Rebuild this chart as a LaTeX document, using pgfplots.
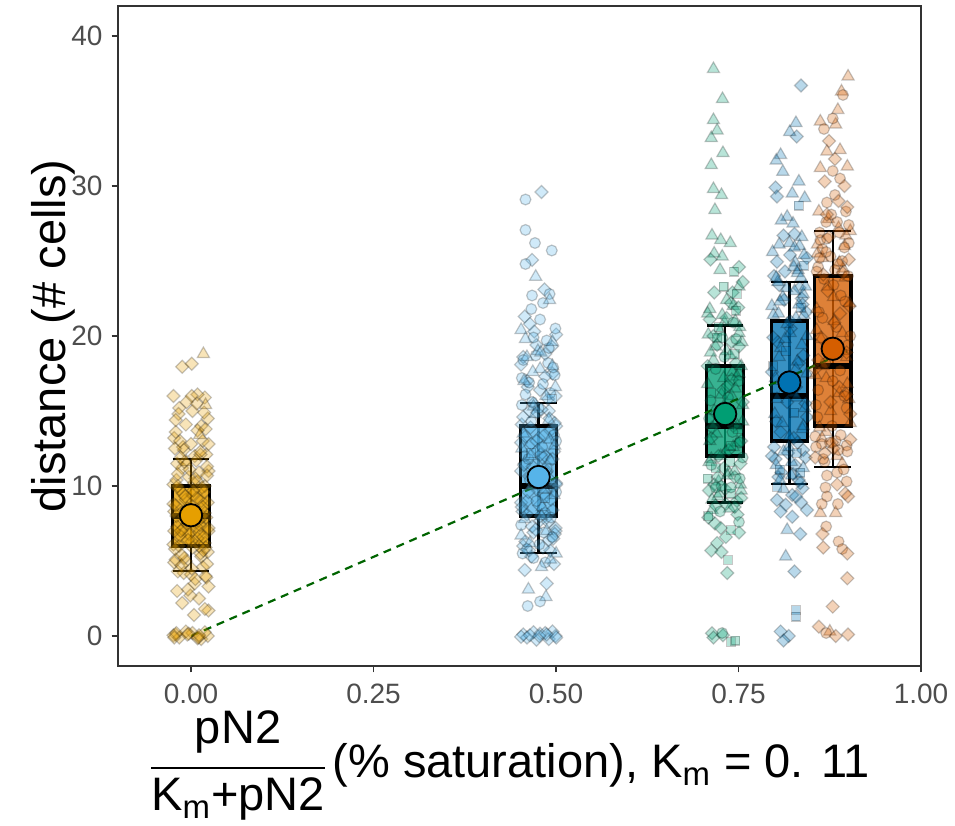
\documentclass[border=0pt]{standalone}
\usepackage{pgfplots}
\pgfplotsset{compat=1.18}
\usepackage{fontspec}
\setmainfont{Liberation Sans}
\definecolor{c1}{HTML}{E69F00}
\definecolor{c2}{HTML}{56B4E9}
\definecolor{c3}{HTML}{009E73}
\definecolor{c4}{HTML}{0072B2}
\definecolor{c5}{HTML}{D55E00}
\definecolor{dg}{HTML}{006400}
\definecolor{axc}{HTML}{333333}
\definecolor{tkc}{HTML}{4D4D4D}
\setlength{\arrayrulewidth}{1pt}
\newcommand{\xlab}{{\renewcommand{\arraystretch}{0.5}\begin{tabular}{@{}c@{}}pN2\\[7.5pt]\hline\rule{0pt}{21pt}K\textsubscript{m}+pN2\end{tabular}}\,(\% saturation), K\textsubscript{m} = 0. 11}
\pgfplotsset{
 dia/.style={only marks, mark=square*, mark size=2.3pt, mark options={rotate=45, fill=#1, draw=black, draw opacity=0.22, fill opacity=0.28, line width=0.6pt}},
 cir/.style={only marks, mark=*, mark size=2.7pt, mark options={fill=#1, draw=black, draw opacity=0.22, fill opacity=0.28, line width=0.6pt}},
 tri/.style={only marks, mark=triangle*, mark size=3.5pt, mark options={fill=#1, draw=black, draw opacity=0.22, fill opacity=0.28, line width=0.6pt}},
 sqr/.style={only marks, mark=square*, mark size=2.2pt, mark options={fill=#1, draw=black, draw opacity=0.22, fill opacity=0.28, line width=0.6pt}},
 mn/.style={only marks, mark=*, mark size=5.6pt, mark options={fill=#1, draw=black, line width=0.9pt}},
 bx/.style={draw=black, line width=1.6pt, fill=#1, fill opacity=0.78, line join=miter},
 wl/.style={black, line width=1.2pt},
 md/.style={black, line width=2.8pt},
}
\begin{document}
\begin{tikzpicture}
\path[use as bounding box] (-59pt,-80pt) rectangle (418.5pt,333pt);
\begin{axis}[
 at={(0,0)}, anchor=south west,
 scale only axis, width=401.5pt, height=330pt,
 xmin=-0.1, xmax=1.0, ymin=-2, ymax=42,
 xtick={0,0.25,0.5,0.75,1}, xticklabels={0.00,0.25,0.50,0.75,1.00},
 ytick={0,10,20,30,40}, yticklabels={0,10,20,30,40},
 tick pos=left, tick align=outside, major tick length=3.2pt,
 every tick/.style={axc, line width=0.6pt},
 axis line style={axc, line width=0.6pt},
 tick label style={font=\fontsize{14}{16}\selectfont, text=tkc},
 xticklabel style={yshift=-2pt},
 yticklabel style={xshift=-1pt},
 xlabel={\xlab},
 xlabel style={at={(axis description cs:0.489,-0.1505)}, anchor=center, font=\fontsize{23.5}{28}\selectfont},
 ylabel={distance (\# cells)},
 ylabel style={at={(axis description cs:-0.081,0.5)}, anchor=center, font=\fontsize{23.5}{28}\selectfont},
 clip=true,
]
% ---------------- group 1 (x = 0)
\addplot[dia=c1] coordinates {
(-0.021,0.1) (0.014,-0.2) (-0.007,0.3) (0.023,0.0) (0.002,0.2) (-0.016,-0.1) (0.019,0.25) (-0.024,0.05) (0.009,-0.15) (-0.003,0.15)
(0.024,1.7) (-0.012,2.2) (0.011,2.5) (-0.019,3.0) (0.005,3.5) (0.021,3.9) (-0.010,4.2) (0.000,4.1) (0.016,4.6) (-0.023,4.9)
(-0.021,5.1) (0.014,5.3) (-0.007,5.0) (0.023,5.6) (0.002,5.9) (-0.016,6.0) (0.019,6.2) (-0.024,6.1) (0.009,6.5) (-0.003,6.8)
(0.024,7.0) (-0.012,7.1) (0.011,6.9) (-0.019,7.3) (0.005,7.6) (0.021,7.9) (-0.010,8.0) (0.000,8.1) (0.016,7.95) (-0.023,8.3)
(-0.021,8.7) (0.014,9.0) (-0.007,9.1) (0.023,8.9) (0.002,9.4) (-0.016,9.8) (0.019,10.0) (-0.024,10.1) (0.009,10.3) (-0.003,10.6)
(0.024,11.0) (-0.012,11.2) (0.011,10.9) (-0.019,11.5) (0.005,12.0) (0.021,12.1) (-0.010,12.4) (0.000,12.8) (0.016,13.0) (-0.023,13.2)
(-0.021,13.6) (0.014,14.0) (-0.007,14.1) (0.023,14.5) (0.002,15.0) (-0.016,15.2) (0.019,15.9) (-0.024,16.0) (0.009,16.1) (-0.012,17.95) (0.001,18.15)
(-0.015,6.7) (0.012,7.4) (-0.005,8.5) (0.018,9.6) (-0.020,10.4) (0.007,11.7) (-0.011,12.6) (0.020,13.8) (-0.017,14.8) (0.008,15.5) (0.004,1.4)
(0.006,3.8) (-0.018,4.3) (0.022,4.8) (-0.009,5.2) (0.013,5.5) (-0.022,5.8) (0.001,6.3) (0.017,6.6) (-0.014,7.0) (0.024,7.2)
(-0.005,7.5) (0.010,7.7) (-0.020,8.0) (0.019,8.2) (-0.001,8.4) (-0.024,8.8) (0.008,9.2) (-0.011,9.5) (0.015,9.9) (0.004,10.2)
(0.006,10.5) (-0.018,10.8) (0.022,11.3) (-0.009,11.6) (0.013,12.1) (-0.022,12.5) (0.001,4.5) (0.017,5.7) (-0.014,11.9) (0.024,3.3)
(-0.005,0.1) (0.010,-0.1) (-0.020,0.2) (0.019,1.8) (-0.001,2.7)
(-0.013,5.4) (0.020,5.9) (-0.004,6.4) (0.011,6.0) (-0.023,7.0) (0.007,7.3) (0.016,8.6) (-0.008,9.3) (0.003,9.7) (-0.018,10.0)
(0.022,10.7) (-0.002,11.1) (0.013,12.3) (-0.015,13.0) (0.009,13.7) (-0.021,14.4) (0.018,14.9) (-0.006,15.6) (0.001,16.0) (0.024,12.8)
(-0.013,4.7) (0.020,4.0) (-0.004,3.1) (0.011,0.05) (-0.023,-0.1)
};
\addplot[tri=c1] coordinates {(0.017,18.8) (0.012,13.4) (-0.006,11.6) (0.020,15.4)};
% ---------------- group 2 (x = 0.4762)
\addplot[dia=c2] coordinates {
(0.4552,0.1) (0.4902,-0.2) (0.4692,0.25) (0.4992,0.0) (0.4782,0.15) (0.4602,-0.1) (0.4952,0.3) (0.4522,-0.05) (0.4852,0.2) (0.4732,-0.25) (0.4642,0.05) (0.4872,0.1)
(0.4872,3.5) (0.4572,4.4) (0.4972,4.8) (0.4662,5.3) (0.4922,5.7)
(0.4802,29.6) (0.4672,25.07) (0.4842,23.1) (0.4572,21.3)
(0.4552,6.0) (0.4902,6.4) (0.4692,6.9) (0.4992,7.2) (0.4782,7.7) (0.4602,8.1) (0.4952,8.4) (0.4522,8.9) (0.4852,9.3) (0.4732,9.8)
(0.5002,10.2) (0.4642,10.6) (0.4872,11.0) (0.4572,11.5) (0.4812,11.9) (0.4972,12.3) (0.4662,12.8) (0.4762,13.2) (0.4922,13.7) (0.4532,14.1)
(0.4552,14.6) (0.4902,15.0) (0.4692,15.5) (0.4992,16.0) (0.4782,16.4) (0.4602,17.0) (0.4952,17.5) (0.4522,18.1) (0.4852,18.8) (0.4732,19.4)
(0.5002,20.1) (0.4642,20.8)
(0.4992,7.0) (0.4782,8.0) (0.4602,9.0) (0.4952,10.0) (0.4522,11.0) (0.4852,12.0) (0.4732,13.0) (0.5002,14.0) (0.4642,15.0)
(0.4822,5.9) (0.4582,6.3) (0.4982,6.8) (0.4672,7.3) (0.4892,7.6) (0.4542,8.3) (0.4772,8.7) (0.4932,9.1) (0.4622,9.6) (0.5002,10.1)
(0.4712,10.5) (0.4862,10.9) (0.4562,11.4) (0.4952,11.8) (0.4752,12.4) (0.4522,12.9) (0.4842,13.4) (0.4652,13.9) (0.4912,14.5) (0.4802,15.1)
(0.4632,5.7) (0.4962,6.5) (0.4722,7.1) (0.4872,7.9) (0.4532,8.6) (0.4832,9.5) (0.4922,10.4) (0.4682,11.3) (0.4792,12.1) (0.4582,13.3)
(0.4982,14.2) (0.4742,14.9) (0.4892,15.8) (0.4612,16.6) (0.4852,17.3) (0.4552,18.6) (0.4942,19.3) (0.4702,20.3) (0.4772,0.0) (0.5002,-0.1)
};
\addplot[cir=c2] coordinates {
(0.4582,29.1) (0.4582,27.07) (0.4712,26.2) (0.4942,25.7) (0.4582,24.8) (0.4912,22.8) (0.4672,22.7) (0.4822,22.2) (0.4662,21.8)
(0.4612,2.0) (0.4782,2.3) (0.4852,4.9) (0.4692,5.2)
(0.4602,5.8) (0.4952,6.6) (0.4522,7.4) (0.4852,8.2) (0.4732,9.0) (0.5002,9.6) (0.4642,10.4) (0.4872,11.2) (0.4572,12.0) (0.4812,12.6)
(0.4972,13.4) (0.4662,14.3) (0.4762,15.2) (0.4922,16.2) (0.4532,17.2) (0.4552,18.4) (0.4902,19.2) (0.4692,19.9) (0.4992,20.5) (0.4782,21.1)
(0.4822,16.8) (0.4582,16.1) (0.4982,17.4) (0.4672,15.6) (0.4892,18.2) (0.4542,5.5) (0.4772,6.1) (0.4932,7.9) (0.4622,11.8) (0.5002,13.0)
(0.4632,16.9) (0.4962,17.9) (0.4722,18.7) (0.4872,19.7) (0.4532,15.4) (0.4832,6.9)
};
\addplot[tri=c2] coordinates {
(0.4722,23.95) (0.4912,22.4) (0.4622,3.1) (0.4862,2.6) (0.4802,4.6)
(0.5002,5.5) (0.4642,6.2) (0.4872,7.0) (0.4572,7.8) (0.4812,8.6) (0.4972,9.4) (0.4662,10.0) (0.4762,10.8) (0.4922,11.7) (0.4532,12.5)
(0.4552,13.5) (0.4902,14.4) (0.4692,15.3) (0.4992,16.6) (0.4782,17.8) (0.4602,18.6) (0.4952,19.6) (0.4522,20.4)
(0.4712,14.8) (0.4862,16.0) (0.4562,17.0) (0.4952,18.0) (0.4752,19.0) (0.4522,6.7) (0.4842,9.8) (0.4652,12.0) (0.4912,13.1) (0.4802,8.0)
(0.4922,5.1) (0.4682,17.6) (0.4792,18.9) (0.4582,19.8) (0.4982,12.7)
};
\addplot[sqr=c2] coordinates {(0.4852,9.2) (0.4662,12.2) (0.4942,15.8)};
% ---------------- group 3 (x = 0.7317)
\addplot[tri=c3] coordinates {
(0.7157,37.8) (0.7281,35.8) (0.7157,34.4) (0.7207,33.7) (0.7127,33.2) (0.7287,32.2) (0.7127,31.4) (0.7157,29.8) (0.7267,29.4) (0.7177,28.4)
(0.7137,26.7) (0.7257,26.4) (0.7387,26.2) (0.7167,25.5) (0.7277,25.3) (0.7247,24.4) (0.7507,23.3) (0.7337,22.4)
(0.7107,21.8) (0.7457,21.0) (0.7247,20.3) (0.7547,19.6) (0.7337,19.0) (0.7157,18.4) (0.7507,17.5) (0.7077,16.8) (0.7407,16.0) (0.7287,15.2)
(0.7557,14.3) (0.7197,13.5) (0.7427,12.6) (0.7127,11.8) (0.7367,10.9) (0.7527,10.1) (0.7217,9.3)
(0.7257,12.0) (0.7107,13.0) (0.7487,14.0) (0.7167,15.0) (0.7457,16.5) (0.7297,17.2) (0.7537,18.0)
(0.7377,8.5) (0.7137,9.1) (0.7537,9.7) (0.7227,10.3) (0.7447,11.0) (0.7097,11.6) (0.7327,12.3) (0.7487,12.9) (0.7177,14.1) (0.7557,15.4)
(0.7267,16.1) (0.7417,17.6) (0.7117,18.9) (0.7507,20.2) (0.7307,20.9) (0.7077,21.5)
(0.7187,19.3) (0.7517,20.6) (0.7277,21.4) (0.7427,22.0) (0.7087,20.1) (0.7387,18.7) (0.7477,17.3) (0.7237,9.5) (0.7347,10.7) (0.7137,8.4)
};
\addplot[dia=c3] coordinates {
(0.7117,25.1) (0.7507,24.6) (0.7417,22.9) (0.7167,22.9)
(0.7187,8.7) (0.7507,6.9) (0.7207,6.2) (0.7127,5.7) (0.7267,5.6) (0.7347,4.2)
(0.7137,0.18) (0.7157,-0.1) (0.7287,0.05)
(0.7337,21.2) (0.7157,20.0) (0.7507,19.3) (0.7077,18.0) (0.7407,17.1) (0.7287,16.4) (0.7557,15.6) (0.7197,14.8) (0.7427,14.0) (0.7127,13.2)
(0.7367,12.4) (0.7527,11.5) (0.7217,10.6) (0.7317,9.8) (0.7477,9.0) (0.7087,7.9)
(0.7397,22.2) (0.7207,19.4) (0.7467,18.2) (0.7357,16.7) (0.7377,15.0) (0.7137,13.9) (0.7537,13.0) (0.7227,12.0) (0.7447,10.6) (0.7097,9.7)
(0.7327,8.8) (0.7487,8.1) (0.7177,7.5)
(0.7537,9.2) (0.7297,11.2) (0.7447,8.6) (0.7167,10.1) (0.7407,19.6) (0.7107,21.1) (0.7497,21.9) (0.7257,7.2) (0.7327,6.6) (0.7557,23.6)
};
\addplot[sqr=c3] coordinates {
(0.7437,24.3) (0.7297,23.3) (0.7397,7.07) (0.7357,5.07) (0.7397,-0.4) (0.7457,-0.3)
(0.7227,20.6) (0.7447,18.8) (0.7127,16.2) (0.7497,13.8) (0.7187,11.2) (0.7397,9.5)
(0.7077,10.5) (0.7397,12.7) (0.7207,19.9) (0.7467,21.7)
(0.7087,8.0) (0.7387,11.6) (0.7477,22.8)
};
\addplot[cir=c3] coordinates {
(0.7507,7.6) (0.7277,0.2)
(0.7467,19.8) (0.7187,17.8) (0.7357,15.9) (0.7097,14.5) (0.7517,12.9) (0.7127,11.4) (0.7397,9.9) (0.7247,8.3)
(0.7557,11.9) (0.7267,10.0) (0.7417,13.6) (0.7117,15.7) (0.7507,17.0) (0.7307,18.6)
(0.7187,9.9) (0.7517,10.5) (0.7277,19.9) (0.7427,20.9)
};
% ---------------- group 4 (x = 0.8197)
\addplot[dia=c4] coordinates {
(0.8357,36.7) (0.8297,33.3) (0.8007,29.9) (0.8027,29.3) (0.8117,26.7) (0.8267,26.8) (0.8027,24.95)
(0.8387,12.4) (0.8377,9.85) (0.8027,9.07) (0.8147,8.75) (0.8357,8.9) (0.8077,8.3) (0.8237,7.95) (0.8347,6.8) (0.8267,4.3)
(0.8077,0.3) (0.8187,0.0) (0.8117,-0.3)
(0.7987,24.0) (0.8337,23.2) (0.8127,22.4) (0.8427,21.6) (0.8217,20.5) (0.8037,19.6) (0.8387,18.7) (0.7957,17.6) (0.8287,16.6) (0.8167,15.6)
(0.8437,14.6) (0.8077,13.6) (0.8307,12.9) (0.8007,11.8) (0.8247,10.8)
(0.7957,12.0) (0.8277,11.4) (0.8087,10.9) (0.8347,10.2) (0.8237,9.4) (0.8257,13.2) (0.8017,14.3) (0.8417,15.5) (0.8107,17.0) (0.8327,18.2)
(0.7977,19.9) (0.8207,21.0) (0.8367,22.5) (0.8057,23.4) (0.8437,25.2)
(0.8417,11.9) (0.8177,12.2) (0.8327,10.4) (0.8047,10.6) (0.8287,9.3) (0.7987,12.6) (0.8377,22.1) (0.8137,24.3) (0.8207,25.4) (0.8437,8.4)
};
\addplot[tri=c4] coordinates {
(0.8287,34.2) (0.8201,33.6) (0.8077,32.07) (0.8017,31.7) (0.8107,30.95) (0.8327,30.3) (0.8237,29.5) (0.8407,29.2) (0.8167,27.95) (0.8087,27.7)
(0.8247,27.5) (0.8367,26.6) (0.8057,26.1) (0.8197,26.2) (0.8337,26.0) (0.8397,25.4) (0.8277,24.9) (0.8317,24.4)
(0.8387,11.2) (0.8167,7.07) (0.8147,5.3)
(0.8037,23.6) (0.8387,22.8) (0.7957,22.0) (0.8287,21.2) (0.8167,20.8) (0.8437,20.0) (0.8077,19.2) (0.8307,18.3) (0.8007,17.2) (0.8247,16.2)
(0.8407,15.2) (0.8097,14.2) (0.8197,13.3)
(0.8117,12.3) (0.8377,13.8) (0.8027,15.8) (0.8287,17.8) (0.8137,19.8) (0.8047,21.5) (0.8267,23.0) (0.8227,11.6) (0.8067,10.4)
(0.8257,24.6) (0.8017,23.9) (0.8417,23.3) (0.8107,22.6) (0.8327,22.1) (0.7977,21.4) (0.8207,20.2) (0.8367,19.4) (0.8057,18.6) (0.8437,17.5)
(0.8147,16.9) (0.8297,15.9) (0.7997,14.8) (0.8387,14.0) (0.8187,12.6)
(0.8067,22.3) (0.8397,21.4) (0.8157,23.2) (0.8307,24.2) (0.7967,25.6) (0.8267,25.9) (0.8357,23.9) (0.8117,9.8) (0.8227,10.7) (0.8017,11.4)
};
\addplot[sqr=c4] coordinates {
(0.8327,28.7) (0.8347,10.9) (0.8027,9.95) (0.8287,1.73) (0.8287,1.3)
(0.8357,21.9) (0.7977,18.0) (0.8267,14.9) (0.8147,19.0) (0.8297,12.2) (0.7997,16.5)
(0.8067,11.1) (0.8397,24.7)
};
% ---------------- group 5 (x = 0.8791)
\addplot[tri=c5] coordinates {
(0.9001,37.3) (0.8911,36.3) (0.8861,35.07) (0.8621,34.3) (0.8831,34.1) (0.8891,32.4) (0.8711,32.3) (0.8621,31.2) (0.8991,31.3) (0.8601,28.3) (0.8871,27.2)
(0.8621,8.2) (0.8831,8.2) (0.8751,0.3)
(0.8581,25.5) (0.8931,24.5) (0.8721,23.3) (0.9021,22.2) (0.8811,21.0) (0.8631,19.8) (0.8981,18.6) (0.8551,17.4) (0.8881,16.2) (0.8761,15.0) (0.9031,14.2)
(0.8951,26.0) (0.8571,21.8) (0.8921,20.2) (0.8661,18.0) (0.8991,16.8) (0.8701,13.6)
(0.8851,12.0) (0.8611,13.9) (0.9011,15.8) (0.8701,17.2) (0.8921,19.0) (0.8571,20.4) (0.8801,22.6) (0.8961,23.9) (0.8651,25.2) (0.9031,27.0)
(0.8921,11.5) (0.8641,13.2) (0.8881,24.9) (0.8581,26.1) (0.8971,26.7) (0.8731,27.8)
};
\addplot[cir=c5] coordinates {
(0.8931,36.07) (0.8791,34.5) (0.8671,33.8) (0.8791,31.0) (0.8891,30.5) (0.8821,29.4) (0.8711,28.9) (0.8971,28.3) (0.8701,27.6) (0.8621,26.4) (0.8651,25.8) (0.8591,24.6)
(0.8711,10.7) (0.8851,10.9) (0.8981,10.3) (0.8691,9.9) (0.8711,9.3) (0.8641,8.8) (0.8861,8.8) (0.8701,7.3) (0.8871,6.3) (0.8921,5.8) (0.8701,0.2)
(0.8641,12.8) (0.8981,12.7)
(0.8671,23.8) (0.8901,22.7) (0.8601,21.6) (0.8841,20.6) (0.9001,19.4) (0.8691,18.2) (0.8791,17.0) (0.8951,16.0) (0.8561,15.4) (0.8581,14.6)
(0.8881,26.9) (0.8761,25.3) (0.9001,24.0)
(0.8851,27.6) (0.8611,26.9) (0.9011,26.2) (0.8701,25.6) (0.8921,25.0) (0.8571,24.3) (0.8801,23.4) (0.8961,22.3) (0.8651,21.2) (0.9031,20.0)
(0.8741,18.9) (0.8891,17.7) (0.8591,16.4) (0.8981,15.2) (0.8781,14.0) (0.8551,13.3) (0.8871,12.4) (0.8681,11.6) (0.8941,11.1) (0.8831,13.0)
(0.8661,11.8) (0.8991,12.3) (0.8751,12.9) (0.8901,13.4) (0.8561,12.6) (0.8861,24.8) (0.8951,25.9) (0.8711,26.5) (0.8821,24.4) (0.8611,25.2) (0.9011,27.4) (0.8771,28.1)
};
\addplot[dia=c5] coordinates {
(0.8741,33.0) (0.8821,31.8) (0.8951,30.0) (0.8711,28.1) (0.9011,25.1)
(0.8681,12.2) (0.8851,10.1) (0.8961,9.5) (0.9001,9.3) (0.8651,6.8) (0.8661,5.9) (0.8991,5.5) (0.8991,3.85) (0.8791,1.96) (0.8601,0.62) (0.8831,0.0) (0.9001,0.1)
(0.8931,24.2) (0.8721,23.0) (0.9021,22.0) (0.8811,20.9) (0.8631,19.9) (0.8981,18.9) (0.8551,17.8) (0.8881,16.6) (0.8761,15.6) (0.9031,14.8)
(0.8741,26.6) (0.8891,21.5) (0.8591,18.4) (0.8981,16.1) (0.8781,12.9) (0.8551,11.9) (0.8871,29.0) (0.8681,30.3)
(0.8801,12.5) (0.9031,13.1) (0.8661,24.1) (0.8991,28.6)
};
% ---------------- error bars (vertical line and caps)
\addplot[wl] coordinates {(0,4.35) (0,11.8)};
\addplot[wl] coordinates {(-0.025,4.35) (0.025,4.35)};
\addplot[wl] coordinates {(-0.025,11.8) (0.025,11.8)};
\addplot[wl] coordinates {(0.4762,5.55) (0.4762,15.55)};
\addplot[wl] coordinates {(0.4512,5.55) (0.5012,5.55)};
\addplot[wl] coordinates {(0.4512,15.55) (0.5012,15.55)};
\addplot[wl] coordinates {(0.7317,8.9) (0.7317,20.7)};
\addplot[wl] coordinates {(0.7067,8.9) (0.7567,8.9)};
\addplot[wl] coordinates {(0.7067,20.7) (0.7567,20.7)};
\addplot[wl] coordinates {(0.8197,10.15) (0.8197,23.6)};
\addplot[wl] coordinates {(0.7947,10.15) (0.8447,10.15)};
\addplot[wl] coordinates {(0.7947,23.6) (0.8447,23.6)};
\addplot[wl] coordinates {(0.8791,11.25) (0.8791,27.0)};
\addplot[wl] coordinates {(0.8541,11.25) (0.9041,11.25)};
\addplot[wl] coordinates {(0.8541,27.0) (0.9041,27.0)};
% ---------------- boxes (lower quartile to upper quartile)
\addplot[bx=c1] coordinates {(-0.025,6) (0.025,6) (0.025,10) (-0.025,10)} -- cycle;
\addplot[bx=c2] coordinates {(0.4512,8) (0.5012,8) (0.5012,14) (0.4512,14)} -- cycle;
\addplot[bx=c3] coordinates {(0.7067,12) (0.7567,12) (0.7567,18) (0.7067,18)} -- cycle;
\addplot[bx=c4] coordinates {(0.7947,13) (0.8447,13) (0.8447,21) (0.7947,21)} -- cycle;
\addplot[bx=c5] coordinates {(0.8541,14) (0.9041,14) (0.9041,24) (0.8541,24)} -- cycle;
% ---------------- medians
\addplot[md] coordinates {(-0.025,8) (0.025,8)};
\addplot[md] coordinates {(0.4512,10) (0.5012,10)};
\addplot[md] coordinates {(0.7067,14) (0.7567,14)};
\addplot[md] coordinates {(0.7947,16) (0.8447,16)};
\addplot[md] coordinates {(0.8541,18) (0.9041,18)};
% ---------------- fitted line
\addplot[dg, line width=1.1pt, dash pattern=on 4pt off 3pt] coordinates {(0,0) (0.898,18.95)};
% ---------------- means
\addplot[mn=c1] coordinates {(0,8.05)};
\addplot[mn=c2] coordinates {(0.4762,10.6)};
\addplot[mn=c3] coordinates {(0.7317,14.8)};
\addplot[mn=c4] coordinates {(0.8197,16.9)};
\addplot[mn=c5] coordinates {(0.8791,19.15)};
\end{axis}
\end{tikzpicture}
\end{document}
